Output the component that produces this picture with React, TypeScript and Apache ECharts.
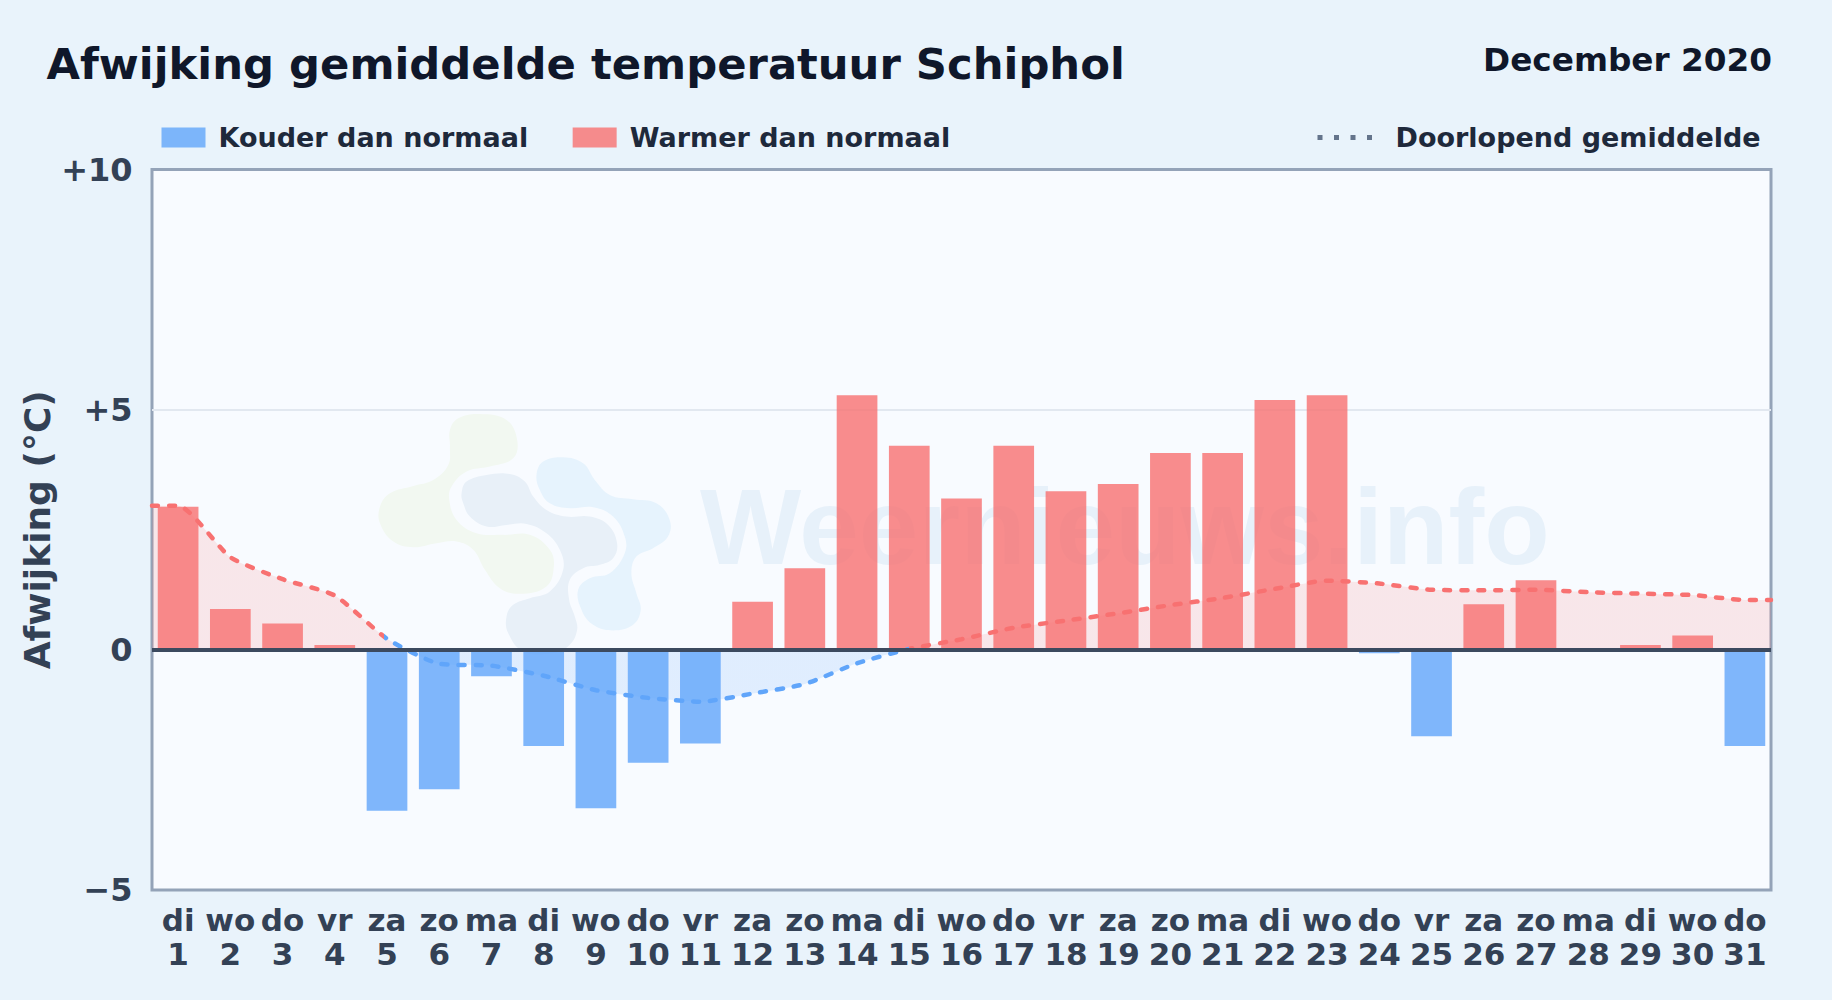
import React, { useEffect, useRef } from "react";
import * as echarts from "echarts";

const chartTitle = "Afwijking gemiddelde temperatuur Schiphol";
const periodLabel = "December 2020";
const coldName = "Kouder dan normaal";
const warmName = "Warmer dan normaal";
const meanName = "Doorlopend gemiddelde";
const yAxisName = "Afwijking (°C)";
const watermarkText = "Weernieuws.info";

const weekdays = ["di","wo","do","vr","za","zo","ma","di","wo","do","vr","za","zo","ma","di","wo","do","vr","za","zo","ma","di","wo","do","vr","za","zo","ma","di","wo","do"];
const days = ["1","2","3","4","5","6","7","8","9","10","11","12","13","14","15","16","17","18","19","20","21","22","23","24","25","26","27","28","29","30","31"];
const deviation = [2.98,0.85,0.55,0.1,-3.35,-2.9,-0.55,-2.0,-3.3,-2.35,-1.95,1.0,1.7,5.3,4.25,3.15,4.25,3.3,3.45,4.1,4.1,5.2,5.3,-0.07,-1.8,0.95,1.45,0,0.1,0.3,-2.0];
const runningMean = [3.0,1.93,1.47,1.13,0.23,-0.29,-0.33,-0.54,-0.84,-1.0,-1.08,-0.91,-0.71,-0.28,0.02,0.22,0.46,0.61,0.76,0.93,1.08,1.27,1.44,1.38,1.25,1.24,1.25,1.2,1.17,1.14,1.04];
const meanLineSwitchDays = [4.95, 15];
const meanAreaSwitchDays = [5.44, 14.93];

const RED = "rgba(248,113,113,0.8)";
const BLUE = "rgba(96,165,250,0.8)";
const RED_LINE = "#f87171";
const BLUE_LINE = "#60a5fa";
const RED_FILL = "rgba(248,113,113,0.15)";
const BLUE_FILL = "rgba(96,165,250,0.16)";
const FONT = "'DejaVu Sans', sans-serif";

const dayToFraction = (d: number) => (d - 0.5) / days.length;
const signStops = (switches: number[], pos: string, neg: string) => {
  const a = dayToFraction(switches[0]);
  const b = dayToFraction(switches[1]);
  return new echarts.graphic.LinearGradient(0, 0, 1, 0, [
    { offset: 0, color: pos }, { offset: a, color: pos },
    { offset: a, color: neg }, { offset: b, color: neg },
    { offset: b, color: pos }, { offset: 1, color: pos },
  ]);
};

const greenBlob = [[240,90],[265,55],[330,42],[410,60],[442,120],[430,175],[360,200],[290,215],[245,260],[238,300],[260,360],[320,400],[400,405],[480,405],[540,450],[552,500],[530,560],[450,582],[390,565],[345,510],[310,450],[260,425],[200,430],[130,442],[70,425],[30,370],[30,320],[60,280],[130,258],[190,240],[235,195],[240,140]];
const centreBlob = [[275,280],[290,245],[350,225],[420,222],[465,245],[490,290],[530,330],[590,350],[660,350],[715,375],[742,430],[730,475],[690,495],[640,505],[600,540],[598,600],[615,650],[622,690],[600,735],[550,760],[460,755],[415,700],[410,650],[430,615],[480,595],[540,575],[580,510],[570,450],[530,400],[470,372],[410,375],[350,380],[300,350],[280,310]];
const blueBlob = [[500,225],[520,185],[580,172],[640,190],[675,240],[720,285],[790,298],[860,310],[900,360],[895,410],[850,445],[800,470],[785,520],[800,580],[813,630],[790,675],[730,692],[670,675],[635,630],[625,570],[660,535],[720,520],[765,460],[765,410],[730,350],[670,322],[600,325],[540,310],[510,270]];

export default function App() {
  const ref = useRef<HTMLDivElement>(null);
  useEffect(() => {
    const chart = echarts.init(ref.current!, undefined, { renderer: "svg" });
    const meanPoints = [
      [0.5, runningMean[0]],
      ...runningMean.map((v, i) => [i + 1, v]),
      [days.length + 0.5, runningMean[runningMean.length - 1]],
    ];
    const blob = (points: number[][], fill: string) => ({
      type: "polygon", z: 1, silent: true,
      x: 370, y: 400, scaleX: 1 / 3, scaleY: 1 / 3,
      shape: { points, smooth: 0.4 },
      style: { fill },
    });
    chart.setOption({
      animation: false,
      backgroundColor: "#e9f3fb",
      title: [
        { text: chartTitle, left: 41.5, top: 37, textStyle: { fontFamily: FONT, fontWeight: "bold", fontSize: 43.3, color: "#0f172a" } },
        { text: periodLabel, right: 55, top: 38.5, textStyle: { fontFamily: FONT, fontWeight: "bold", fontSize: 32.7, color: "#0f172a" } },
      ],
      legend: [
        {
          data: [coldName, warmName], left: 156.5, top: 119, itemWidth: 44, itemHeight: 20, itemGap: 44.5,
          selectedMode: false, icon: "rect",
          textStyle: { fontFamily: FONT, fontWeight: "bold", fontSize: 27, color: "#1e293b", padding: [0, 0, 0, 8] },
        },
        {
          data: [meanName], left: 1310, top: 119, itemWidth: 60, itemHeight: 20, selectedMode: false,
          itemStyle: { color: "rgba(0,0,0,0)", opacity: 0, borderWidth: 0 },
          lineStyle: { color: "#64748b", width: 5, type: [5, 11.5], cap: "butt" },
          textStyle: { fontFamily: FONT, fontWeight: "bold", fontSize: 27, color: "#1e293b", padding: [0, 0, 0, 13] },
        },
      ],
      grid: { left: 152, top: 169.5, width: 1619, height: 720.5, show: true, backgroundColor: "#f8fbff", borderColor: "#94a3b8", borderWidth: 3 },
      xAxis: [
        {
          type: "category", data: days, position: "bottom",
          axisLine: { show: false }, axisTick: { show: false },
          axisLabel: {
            interval: 0, margin: 13, lineHeight: 34,
            fontFamily: FONT, fontWeight: "bold", fontSize: 31, color: "#334155",
            formatter: (d: string, i: number) => `${weekdays[i]}\n${d}`,
          },
        },
        { type: "value", min: 0.5, max: days.length + 0.5, show: false },
      ],
      yAxis: {
        type: "value", min: -5, max: 10, interval: 5,
        name: yAxisName, nameLocation: "middle", nameRotate: 90, nameGap: 96.5, nameMoveOverlap: false,
        nameTextStyle: { fontFamily: FONT, fontWeight: "bold", fontSize: 36, color: "#334155" },
        axisLine: { show: false }, axisTick: { show: false },
        axisLabel: {
          margin: 19.5, fontFamily: FONT, fontWeight: "bold", fontSize: 32, color: "#334155",
          formatter: (v: number) => (v > 0 ? `+${v}` : v < 0 ? `\u2212${-v}` : "0"),
        },
        splitLine: { showMinLine: false, showMaxLine: false, lineStyle: { color: "#e2e8f0", width: 2 } },
      },
      graphic: [
        blob(greenBlob, "#f2f8f1"),
        blob(centreBlob, "#e8f0f8"),
        blob(blueBlob, "#e6f3fd"),
        {
          type: "text", z: 1, silent: true, x: 700, y: 580,
          style: { text: watermarkText, fill: "#e7f1fa", font: "bold 107.2px 'Liberation Sans', sans-serif", textVerticalAlign: "bottom", verticalAlign: "alphabetic" },
        },
      ],
      series: [
        {
          type: "line", xAxisIndex: 1, data: meanPoints, z: 2, silent: true, showSymbol: false, symbol: "none",
          smooth: 0.2, legendHoverLink: false,
          lineStyle: { width: 0 },
          areaStyle: { color: signStops(meanAreaSwitchDays, RED_FILL, BLUE_FILL), opacity: 1 },
        },
        { name: coldName, type: "bar", xAxisIndex: 0, z: 3, barWidth: 40.7, barGap: "-100%", itemStyle: { color: BLUE }, data: deviation.map((v) => (v < 0 ? v : null)) },
        { name: warmName, type: "bar", xAxisIndex: 0, z: 3, barWidth: 40.7, barGap: "-100%", itemStyle: { color: RED }, data: deviation.map((v) => (v >= 0 ? v : null)) },
        {
          name: meanName, type: "line", xAxisIndex: 1, data: meanPoints, z: 4, silent: true, showSymbol: false, symbol: "none",
          smooth: 0.2,
          lineStyle: { width: 4.5, type: [6, 11], cap: "round", color: signStops(meanLineSwitchDays, RED_LINE, BLUE_LINE) },
          markLine: {
            silent: true, symbol: "none", label: { show: false }, animation: false,
            lineStyle: { color: "#3c4a5f", width: 4, type: "solid" },
            data: [{ yAxis: 0 }],
          },
        },
      ],
    });
    return () => chart.dispose();
  }, []);
  return <div ref={ref} style={{ position: "absolute", left: 0, top: 0, width: 1832, height: 1000 }} />;
}
